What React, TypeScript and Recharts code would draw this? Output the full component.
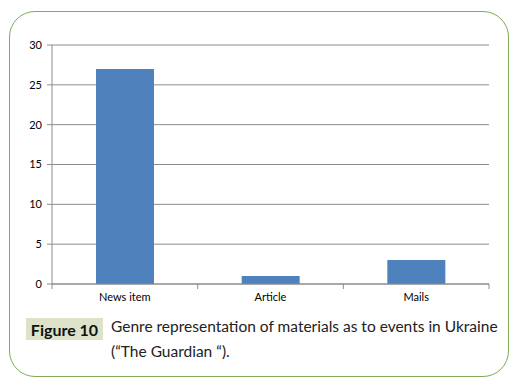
import { BarChart, Bar, XAxis, YAxis, CartesianGrid } from 'recharts';

// ── chart values ───────────────────────────────────────────────────
const genres = ['News item', 'Article', 'Mails'];
const counts = [27, 1, 3];
const yTicks = [0, 5, 10, 15, 20, 25, 30];
// category boundaries at whole numbers, labels at the half positions
const xTicks = [0, 0.5, 1, 1.5, 2, 2.5, 3];

const figureLabel = 'Figure 10';
const captionLines = ['Genre representation of materials as to events in Ukraine', '(\u201cThe Guardian \u201c).'];

const data = genres.map((g, i) => ({ genre: g, count: counts[i], pos: i + 0.5 }));

const AXIS_GREY = '#8c8c8c';
const BAR_BLUE = '#4f81bd';
const FONT = 'Lato, "Open Sans", sans-serif';

function XTick(props: { x: number; y: number; payload: { value: number } }) {
  const { x, y, payload } = props;
  const v = payload.value;
  if (Number.isInteger(v)) {
    return <line x1={x} y1={y} x2={x} y2={y + 5} stroke={AXIS_GREY} />;
  }
  return (
    <text x={x} y={y + 17} textAnchor="middle" fontSize={11} fontFamily={FONT} fill="#000">
      {genres[Math.floor(v)]}
    </text>
  );
}

export default function App() {
  return (
    <div style={{ position: 'fixed', left: 0, top: 0, width: 517, height: 387, background: '#fff', fontFamily: FONT }}>
      {/* rounded green frame */}
      <div
        style={{
          position: 'absolute', left: 9, top: 11, width: 498, height: 364,
          border: '1.5px solid #80ad55', borderRadius: 26,
        }}
      />
      <div style={{ position: 'absolute', left: 0, top: 0 }}>
        <BarChart width={517} height={310} data={data} margin={{ top: 45, right: 28, bottom: 6, left: 0 }}>
          <CartesianGrid vertical={false} stroke={AXIS_GREY} strokeWidth={1} />
          <XAxis
            type="number"
            dataKey="pos"
            domain={[0, 3]}
            ticks={xTicks}
            interval={0}
            tickLine={false}
            tickSize={0}
            tickMargin={0}
            stroke={AXIS_GREY}
            height={20}
            tick={XTick}
            allowDataOverflow
          />
          <YAxis
            domain={[0, 30]}
            ticks={yTicks}
            width={52}
            tickSize={5}
            tickMargin={5}
            stroke={AXIS_GREY}
            tick={{ fontSize: 11, fill: '#000', fontFamily: FONT }}
          />
          <Bar dataKey="count" fill={BAR_BLUE} barSize={58} isAnimationActive={false} />
        </BarChart>
      </div>
      {/* caption */}
      <div
        style={{
          position: 'absolute', left: 26, top: 318, width: 77, height: 22,
          background: '#dce3c8', fontWeight: 700, fontSize: 16, color: '#111',
          display: 'flex', alignItems: 'center', justifyContent: 'center',
        }}
      >
        {figureLabel}
      </div>
      <div style={{ position: 'absolute', left: 111, top: 314, fontSize: 15.5, lineHeight: '25px', color: '#222', whiteSpace: 'nowrap' }}>
        {captionLines.map(l => <div key={l}>{l}</div>)}
      </div>
    </div>
  );
}
